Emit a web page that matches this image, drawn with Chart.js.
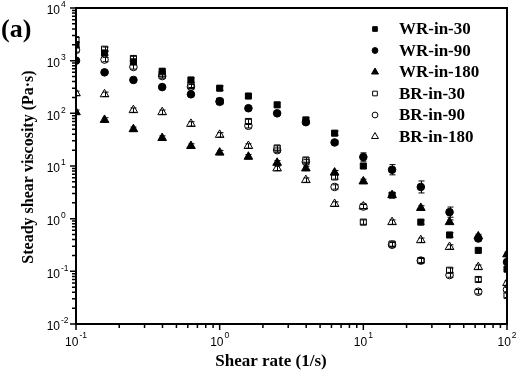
<!DOCTYPE html>
<html><head><meta charset="utf-8">
<script src="https://cdn.jsdelivr.net/npm/chart.js@4/dist/chart.umd.min.js"></script>
<style>html,body{margin:0;padding:0;background:#fff}#wrap{width:522px;height:372px}</style>
</head><body><div id="wrap"><canvas id="c" width="522" height="372"></canvas></div>
<script>
// ---- data ----
const shearRate = [0.1, 0.158, 0.251, 0.398, 0.631, 1, 1.585, 2.512, 3.981, 6.31, 10, 15.85, 25.12, 39.81, 63.1, 100];
const wrIn30  = [2000, 1400, 950, 630, 430, 300, 213, 145, 75, 42, 10, 2.8, 0.86, 0.49, 0.25, 0.11];
const wrIn90  = [1000, 600, 430, 315, 230, 170, 125, 100, 68, 28, 14.8, 8.5, 4.0, 1.33, 0.42, 0.15];
const wrIn180 = [105, 75, 50, 34, 24, 18, 15, 11.5, 9, 7.5, 5.1, 2.8, 1.6, 0.86, 0.46, 0.21];
const brIn30  = [2500, 1650, 1100, 560, 340, 170, 70, 22, 13, 6.2, 0.86, 0.33, 0.16, 0.105, 0.07, 0.035];
const brIn90  = [1600, 1050, 760, 510, 320, 165, 58, 20, 12, 4.0, 1.7, 0.32, 0.16, 0.085, 0.041, 0.045];
const brIn180 = [240, 230, 115, 105, 63, 39, 24, 9, 5.4, 1.9, 1.7, 0.86, 0.39, 0.29, 0.12, 0.06];
// relative errors (fraction of value)
const errWrIn90 = [0.05, 0.05, 0.05, 0.05, 0.05, 0.05, 0.05, 0.05, 0.05, 0.08, 0.2, 0.25, 0.3, 0.25, 0.12, 0.1];
const errOther = 0.1;
const seriesNames = ['WR-in-30', 'WR-in-90', 'WR-in-180', 'BR-in-30', 'BR-in-90', 'BR-in-180'];
const xTickExps = [-1, 0, 1, 2];
const yTickExps = [-2, -1, 0, 1, 2, 3, 4];
const panelLabel = '(a)';
const xTitle = 'Shear rate (1/s)';
const yTitle = 'Steady shear viscosity (Pa\u00b7s)';

const seriesValues = [wrIn30, wrIn90, wrIn180, brIn30, brIn90, brIn180];
const seriesErr = [null, errWrIn90, null, null, null, null];
const styles = [
  {ps:'rect', r:4.3, fill:'#000', lr:3.3},
  {ps:'circle', r:3.8, fill:'#000', lr:2.9},
  {ps:'triangle', r:5, fill:'#000', lr:4},
  {ps:'rect', r:4.3, fill:'#fff', lr:3.3},
  {ps:'circle', r:3.8, fill:'#fff', lr:2.9},
  {ps:'triangle', r:5, fill:'#fff', lr:4}
];

const datasets = seriesNames.map((name, i) => ({
  label: name,
  data: shearRate.map((x, j) => ({x: x, y: seriesValues[i][j]})),
  pointStyle: styles[i].ps,
  pointRadius: styles[i].r,
  pointHoverRadius: styles[i].r,
  backgroundColor: styles[i].fill,
  borderColor: '#000',
  borderWidth: 1,
  showLine: false
}));

const SERIF = '"Liberation Serif", "Times New Roman", serif';
const SANS = '"Liberation Sans", Arial, sans-serif';

const decorPlugin = {
  id: 'decor',
  afterDatasetsDraw(chart) {
    const ctx = chart.ctx;
    const xs = chart.scales.x, ys = chart.scales.y;
    const ca = chart.chartArea;
    ctx.save();
    ctx.beginPath(); ctx.rect(ca.left, ca.top, ca.right - ca.left, ca.bottom - ca.top); ctx.clip();
    ctx.strokeStyle = '#000';
    ctx.lineWidth = 1;
    chart.data.datasets.forEach((ds, i) => {
      ds.data.forEach((p, j) => {
        const rel = seriesErr[i] ? seriesErr[i][j] : errOther;
        const px = Math.round(xs.getPixelForValue(p.x)) + 0.5;
        const yt = ys.getPixelForValue(p.y * (1 + rel));
        const yb = ys.getPixelForValue(p.y / (1 + rel));
        ctx.beginPath();
        ctx.moveTo(px, yt); ctx.lineTo(px, yb);
        ctx.moveTo(px - 3, yt); ctx.lineTo(px + 3, yt);
        ctx.moveTo(px - 3, yb); ctx.lineTo(px + 3, yb);
        ctx.stroke();
      });
    });
    ctx.restore();
  },
  afterDraw(chart) {
    const ctx = chart.ctx;
    const xs = chart.scales.x, ys = chart.scales.y;
    const ca = chart.chartArea;
    ctx.save();
    // frame
    ctx.strokeStyle = '#000';
    ctx.lineWidth = 2;
    ctx.strokeRect(ca.left, ca.top, ca.right - ca.left, ca.bottom - ca.top);
    // ticks
    ctx.lineWidth = 1.5;
    ctx.beginPath();
    for (let e = -1; e < 2; e++) {
      for (let m = 1; m <= 10; m++) {
        const v = m * Math.pow(10, e);
        const px = xs.getPixelForValue(v);
        const len = (m === 1 || m === 10) ? 6 : 4;
        ctx.moveTo(px, ca.bottom); ctx.lineTo(px, ca.bottom + len);
      }
    }
    for (let e = -2; e < 4; e++) {
      for (let m = 1; m <= 10; m++) {
        const v = m * Math.pow(10, e);
        const py = ys.getPixelForValue(v);
        const len = (m === 1 || m === 10) ? 6 : 4;
        ctx.moveTo(ca.left, py); ctx.lineTo(ca.left - len, py);
      }
    }
    ctx.stroke();
    // tick labels
    ctx.fillStyle = '#000';
    ctx.textBaseline = 'middle';
    const bigF = '12px ' + SANS, supF = '8.5px ' + SANS;
    yTickExps.forEach(e => {
      const py = ys.getPixelForValue(Math.pow(10, e));
      ctx.font = bigF; ctx.textAlign = 'right';
      ctx.fillText('10', 60, py + 3);
      ctx.font = supF; ctx.textAlign = 'left';
      ctx.fillText(e < 0 ? '-' + (-e) : String(e), 61, py - 3);
    });
    xTickExps.forEach(e => {
      const px = xs.getPixelForValue(Math.pow(10, e));
      const sup = e < 0 ? '-' + (-e) : String(e);
      ctx.font = bigF; const w1 = ctx.measureText('10').width;
      ctx.font = supF; const w2 = ctx.measureText(sup).width;
      const x0 = px - (w1 + w2 + 1) / 2;
      ctx.font = bigF; ctx.textAlign = 'left';
      ctx.fillText('10', x0, ca.bottom + 19);
      ctx.font = supF;
      ctx.fillText(sup, x0 + w1 + 1, ca.bottom + 12);
    });
    // titles
    ctx.font = 'bold 17px ' + SERIF;
    ctx.textAlign = 'center';
    ctx.fillText(xTitle, 271, 362);
    ctx.save();
    ctx.font = 'bold 16px ' + SERIF;
    ctx.translate(29, 167);
    ctx.rotate(-Math.PI / 2);
    ctx.fillText(yTitle, 0, 0);
    ctx.restore();
    // panel label
    ctx.font = 'bold 26px ' + SERIF;
    ctx.textAlign = 'left';
    ctx.textBaseline = 'alphabetic';
    ctx.fillText(panelLabel, 1, 37);
    // legend
    ctx.font = 'bold 17px ' + SERIF;
    ctx.textBaseline = 'middle';
    chart.data.datasets.forEach((ds, i) => {
      const y = 29 + i * 21.5;
      ctx.fillStyle = styles[i].fill;
      ctx.strokeStyle = '#000';
      ctx.lineWidth = 1;
      Chart.helpers.drawPoint(ctx, {pointStyle: ds.pointStyle, radius: styles[i].lr, borderWidth: 1, rotation: 0}, 375, y);
      ctx.fillStyle = '#000';
      ctx.fillText(ds.label, 399, y + 1);
    });
    ctx.restore();
  }
};

new Chart(document.getElementById('c'), {
  type: 'scatter',
  data: { datasets },
  options: {
    responsive: false,
    animation: false,
    devicePixelRatio: 1,
    layout: { padding: { top: 8, right: 15, left: 0, bottom: 0 } },
    plugins: { legend: { display: false }, tooltip: { enabled: false } },
    scales: {
      x: { type: 'logarithmic', min: 0.1, max: 100,
           grid: { display: false }, border: { display: false }, ticks: { display: false },
           afterFit(s) { s.height = 48; } },
      y: { type: 'logarithmic', min: 0.01, max: 10000,
           grid: { display: false }, border: { display: false }, ticks: { display: false },
           afterFit(s) { s.width = 76; } }
    }
  },
  plugins: [decorPlugin]
});
</script>
</body></html>
